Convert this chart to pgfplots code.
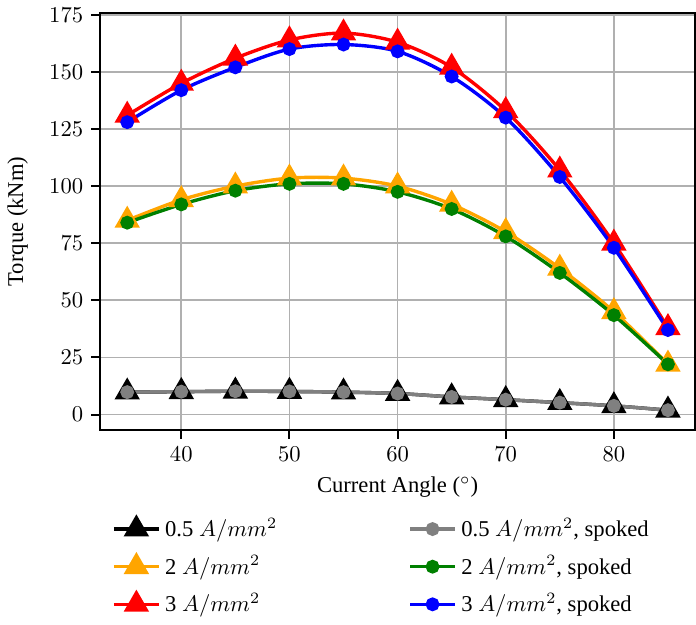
\documentclass[border=0pt]{standalone}
\usepackage[no-math]{fontspec}
\setmainfont{Liberation Serif}
\usepackage{pgfplots}
\pgfplotsset{compat=1.18}
\definecolor{mplorange}{HTML}{FFA500}
\definecolor{mplgreen}{HTML}{008000}
\definecolor{mplgray}{HTML}{808080}
\definecolor{gridgray}{HTML}{B0B0B0}

\begin{document}
\begin{tikzpicture}
\begin{axis}[
    width=263pt,
    height=184pt,
    scale only axis,
    xmin=32.5, xmax=87.5,
    ymin=-6.6, ymax=175.6,
    xtick={40,50,60,70,80},
    ytick={0,25,50,75,100,125,150,175},
    xtick pos=bottom, ytick pos=left,
    tick align=outside,
    major tick length=4pt,
    tick label style={font=\fontsize{10}{12}\selectfont},
    label style={font=\fontsize{10}{12}\selectfont},
    xlabel={Current Angle ($^{\circ}$)},
    ylabel={Torque (kNm)},
    ylabel shift=2.5pt,
    grid=major,
    grid style={gridgray, line width=0.8pt},
    axis line style={line width=0.9pt},
    every tick/.style={black, line width=0.9pt},
    legend columns=2,
    legend cell align=left,
    legend image code/.code={
        \draw[mark repeat=2, mark phase=2] plot coordinates {(0cm,0cm) (0.35cm,0cm) (0.7cm,0cm)};},
    legend style={draw=none, at={(0.475,-0.19)}, anchor=north,
        font=\fontsize{10}{12}\selectfont,
        /tikz/every even column/.append style={column sep=56pt},
        row sep=3pt},
    every axis plot/.append style={line width=1.5pt, smooth},
]
\addplot[black, mark=triangle*, mark size=5pt] coordinates {
(35,9.8) (40,10.0) (45,10.2) (50,10.1) (55,9.8) (60,9.2) (65,7.7) (70,6.5) (75,5.2) (80,3.8) (85,1.9)};
\addlegendentry{0.5 $A/mm^2$}
\addplot[mplgray, mark=*, mark size=2.3pt] coordinates {
(35,9.8) (40,10.0) (45,10.2) (50,10.1) (55,9.8) (60,9.2) (65,7.7) (70,6.5) (75,5.2) (80,3.8) (85,1.9)};
\addlegendentry{0.5 $A/mm^2$, spoked}
\addplot[mplorange, mark=triangle*, mark size=5pt] coordinates {
(35,85) (40,94) (45,100) (50,103.5) (55,103.5) (60,100) (65,92) (70,80) (75,64) (80,45) (85,22)};
\addlegendentry{2 $A/mm^2$}
\addplot[mplgreen, mark=*, mark size=2.3pt] coordinates {
(35,84) (40,92) (45,98) (50,101) (55,101) (60,97.5) (65,90) (70,78) (75,62) (80,43.5) (85,22)};
\addlegendentry{2 $A/mm^2$, spoked}
\addplot[red, mark=triangle*, mark size=5pt] coordinates {
(35,131) (40,145) (45,156) (50,164) (55,167) (60,163) (65,152) (70,133) (75,107) (80,75) (85,38)};
\addlegendentry{3 $A/mm^2$}
\addplot[blue, mark=*, mark size=2.3pt] coordinates {
(35,128) (40,142) (45,152) (50,160) (55,162) (60,159) (65,148) (70,130) (75,104) (80,73) (85,37)};
\addlegendentry{3 $A/mm^2$, spoked}
\end{axis}
\end{tikzpicture}
\end{document}
